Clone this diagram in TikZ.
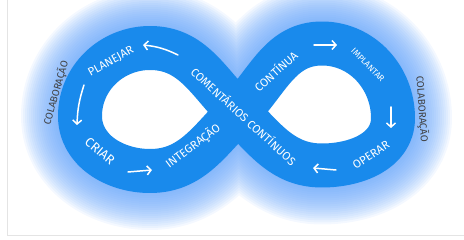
\documentclass[tikz,border=0pt]{standalone}
\usepackage{fontspec}
\setmainfont{Fira Sans}
\usetikzlibrary{arrows.meta}

\definecolor{bandblue}{RGB}{25,138,236}
\definecolor{glowblue}{RGB}{95,160,250}
\definecolor{framegray}{RGB}{228,228,228}

% centre line of the loop band
\def\leftloop{(c) to[out=135,in=0] (lt) to[out=180,in=90] (l) to[out=-90,in=180] (lb) to[out=0,in=-135] (c)}
\def\rightloop{(c) to[out=45,in=180] (rt) to[out=0,in=90] (r) to[out=-90,in=0] (rb) to[out=180,in=-45] (c)}

\begin{document}
\begin{tikzpicture}[x=1pt,y=1pt,
  lbl/.style={text=white,font=\fontsize{11.5}{13}\selectfont,inner sep=0pt},
  side/.style={text=black!75,font=\fontsize{10}{12}\selectfont,inner sep=0pt},
  flow/.style={white,line width=1.5pt,line cap=round,-{Straight Barb[length=4pt,width=9pt]}}]
  \useasboundingbox (0,0) rectangle (464,240);
  \draw[framegray,line width=0.8pt] (7,240) -- (7,5) -- (464,5);

  \coordinate (c) at (238,128);
  \coordinate (lt) at (150,192);
  \coordinate (l) at (80,124);
  \coordinate (lb) at (150,69);
  \coordinate (rt) at (322,196.5);
  \coordinate (r) at (393,122);
  \coordinate (rb) at (322,74.5);

  % soft halo round the band
  \foreach \w in {46,50,...,118}
    \draw[glowblue,opacity=0.07,line width=\w pt,line join=round] \leftloop \rightloop;
  \fill[white] \leftloop;
  \fill[white] \rightloop;

  % the band itself
  \draw[bandblue,line width=44pt,line join=round] \leftloop \rightloop;

  % stages
  \node[lbl,rotate=29] (plan) at (111,178.5) {PLANEJAR};
  \node[lbl,rotate=-40,font=\fontsize{13}{15}\selectfont] (criar) at (100,89) {CRIAR};
  \node[lbl,rotate=37] (integ) at (193,94) {INTEGRAÇÃO};
  \node[lbl,rotate=42] (cont) at (275.5,169) {CONTÍNUA};
  \node[lbl,rotate=-45,font=\fontsize{8.5}{10}\selectfont] (impl) at (368,175) {IMPLANTAR};
  \node[lbl,rotate=33] (oper) at (371,85) {OPERAR};
  \node[lbl,rotate=-42.5] (coment) at (244,124) {COMENTÁRIOS CONTÍNUOS};

  \node[side,rotate=74] (colabL) at (56,147) {COLABORAÇÃO};
  \node[side,rotate=-86] (colabR) at (422,131) {COLABORAÇÃO};

  % arrows along the band
  \coordinate (a1) at (178,185); \coordinate (b1) at (143,195);
  \coordinate (a2) at (84,155);  \coordinate (b2) at (77,115);
  \coordinate (a3) at (128,68);  \coordinate (b3) at (152,70);
  \coordinate (a4) at (314,195); \coordinate (b4) at (337,195);
  \coordinate (a5) at (391,133); \coordinate (b5) at (391,112);
  \coordinate (a6) at (336,70);  \coordinate (b6) at (313,72);
  \draw[flow] (a1) to[bend right=10] (b1);
  \draw[flow] (a2) to[bend right=8] (b2);
  \draw[flow] (a3) -- (b3);
  \draw[flow] (a4) -- (b4);
  \draw[flow] (a5) -- (b5);
  \draw[flow] (a6) -- (b6);
\end{tikzpicture}
\end{document}
